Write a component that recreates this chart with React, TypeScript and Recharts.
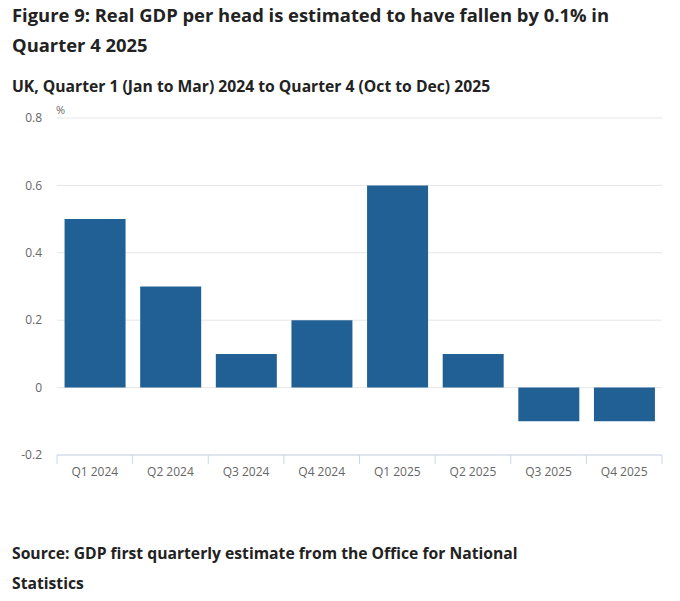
import React from 'react';
import { BarChart, Bar, XAxis, YAxis, CartesianGrid } from 'recharts';

const QUARTERS = ['Q1 2024', 'Q2 2024', 'Q3 2024', 'Q4 2024', 'Q1 2025', 'Q2 2025', 'Q3 2025', 'Q4 2025'];
const GDP_PER_HEAD = [0.5, 0.3, 0.1, 0.2, 0.6, 0.1, -0.1, -0.1];
const Y_TICKS = [-0.2, 0, 0.2, 0.4, 0.6, 0.8];

const chartData = QUARTERS.map((q, i) => ({ quarter: q, value: GDP_PER_HEAD[i] }));

const FONT = '"Open Sans", sans-serif';

// boundary tick marks like highcharts, label in the middle of each band
function QuarterTick(props: any) {
  const { x, y, payload, index } = props;
  const half = payload && payload.offset ? payload.offset : 605 / 16;
  const last = index === QUARTERS.length - 1;
  return (
    <g>
      <line x1={x - half} x2={x - half} y1={y - 8} y2={y + 1} stroke="#ccd6eb" />
      {last && <line x1={x + half} x2={x + half} y1={y - 8} y2={y + 1} stroke="#ccd6eb" />}
      <text x={x} y={y + 13} textAnchor="middle" fill="#666" fontSize={12} fontFamily={FONT}>
        {payload.value}
      </text>
    </g>
  );
}

export default function App() {
  return (
    <div style={{ position: 'relative', width: 680, height: 601, background: '#fff', fontFamily: FONT, color: '#222' }}>
      <style>{'body{margin:0}'}</style>
      <div style={{ position: 'absolute', left: 12, top: 0, fontSize: 18.4, fontWeight: 700, lineHeight: '30px', width: 660 }}>
        Figure 9: Real GDP per head is estimated to have fallen by 0.1% in<br />Quarter 4 2025
      </div>
      <div style={{ position: 'absolute', left: 12, top: 75, fontSize: 15.7, fontWeight: 700, lineHeight: '22px' }}>
        UK, Quarter 1 (Jan to Mar) 2024 to Quarter 4 (Oct to Dec) 2025
      </div>
      <div style={{ position: 'absolute', left: 56, top: 102, fontSize: 11, color: '#666' }}>%</div>
      <div style={{ position: 'absolute', left: 0, top: 100 }}>
        <BarChart width={680} height={391} data={chartData} margin={{ top: 18, right: 18, left: 0, bottom: 6 }} barCategoryGap="10%">
          <CartesianGrid vertical={false} stroke="#e6e6e6" />
          <XAxis
            dataKey="quarter"
            tick={<QuarterTick />}
            tickLine={false}
            axisLine={{ stroke: '#ccd6eb' }}
            height={30}
            interval={0}
          />
          <YAxis
            width={57}
            domain={[-0.2, 0.8]}
            ticks={Y_TICKS}
            tickLine={false}
            axisLine={false}
            tickMargin={9}
            tick={{ fill: '#666', fontSize: 12, fontFamily: FONT }}
          />
          <Bar dataKey="value" fill="#206095" isAnimationActive={false} />
        </BarChart>
      </div>
      <div style={{ position: 'absolute', left: 12, top: 538, fontSize: 15.7, fontWeight: 700, lineHeight: '30px' }}>
        Source: GDP first quarterly estimate from the Office for National<br />Statistics
      </div>
    </div>
  );
}
